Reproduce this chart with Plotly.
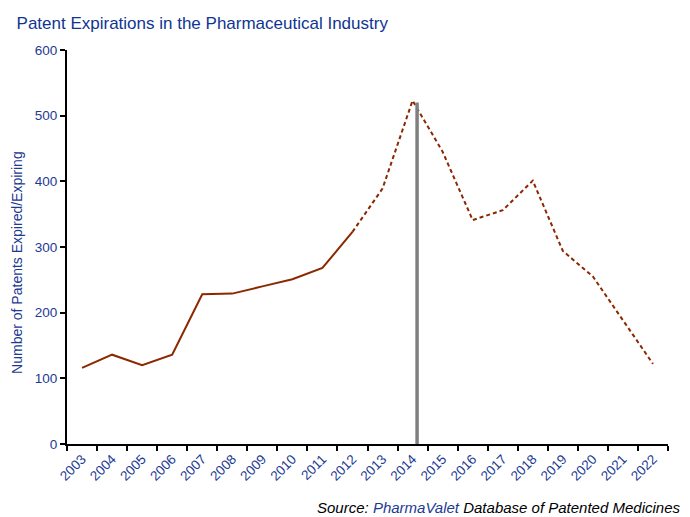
import plotly.graph_objects as go

years = [str(y) for y in range(2003, 2023)]
patents = [116, 136, 120, 136, 228, 229, 240, 251, 268, 323,
           389, 523, 445, 341, 356, 401, 294, 255, 188, 122]
solid_end = "2012"
marker_pos = 11.15  # position of the vertical "today" line (mid-2014)
marker_top = 520

idx = years.index(solid_end)
line_color = "#8B2800"
blue = "#1C3A94"
font = "Liberation Sans, Arial, sans-serif"

fig = go.Figure()
fig.add_trace(go.Scatter(x=years[:idx + 1], y=patents[:idx + 1], mode="lines",
                         line=dict(color=line_color, width=2), showlegend=False))
fig.add_trace(go.Scatter(x=years[idx:], y=patents[idx:], mode="lines",
                         line=dict(color=line_color, width=2, dash="4px,3px"), showlegend=False))

fig.add_shape(type="line", xref="x", yref="y", x0=marker_pos, x1=marker_pos,
              y0=0, y1=marker_top, line=dict(color="#7F7F7F", width=3.5))

fig.update_layout(
    width=690, height=517,
    margin=dict(l=67, r=22, t=50, b=73, autoexpand=False),
    paper_bgcolor="white", plot_bgcolor="white",
    font=dict(family=font, color=blue, size=13),
    title=dict(text="Patent Expirations in the Pharmaceutical Industry",
               x=0.024, xanchor="left", y=0.956, yanchor="middle",
               font=dict(family=font, size=17, color="#0F3592")),
    xaxis=dict(type="category", range=[-0.5, 19.5], tickson="boundaries",
               ticks="outside", ticklen=5, tickwidth=2, tickcolor="black",
               showline=True, linecolor="black", linewidth=2, showgrid=False,
               tickangle=-45, tickfont=dict(size=13.5, color=blue), zeroline=False,
               automargin=False),
    yaxis=dict(range=[0, 600], dtick=100, ticks="outside", ticklen=5, tickwidth=2,
               tickcolor="black", showline=True, linecolor="black", linewidth=2,
               showgrid=False, zeroline=False, tickfont=dict(size=13.5, color=blue),
               automargin=False),
    annotations=[
        dict(text="Number of Patents Expired/Expiring", textangle=-90,
             xref="paper", yref="paper", x=-0.083, y=0.46, xanchor="center",
             yanchor="middle", showarrow=False,
             font=dict(size=14, color=blue, family=font)),
        dict(text="<i>Source: <span style='color:#1C3A94'>PharmaValet</span> "
                  "Database of Patented Medicines</i>",
             xref="paper", yref="paper", x=1.025, y=-0.16, xanchor="right",
             yanchor="middle", showarrow=False,
             font=dict(size=15, color="black", family=font)),
    ],
)

fig.write_html("out.html", config={"displayModeBar": False},
               post_script="document.body.style.margin='0';document.body.style.overflow='hidden';")
